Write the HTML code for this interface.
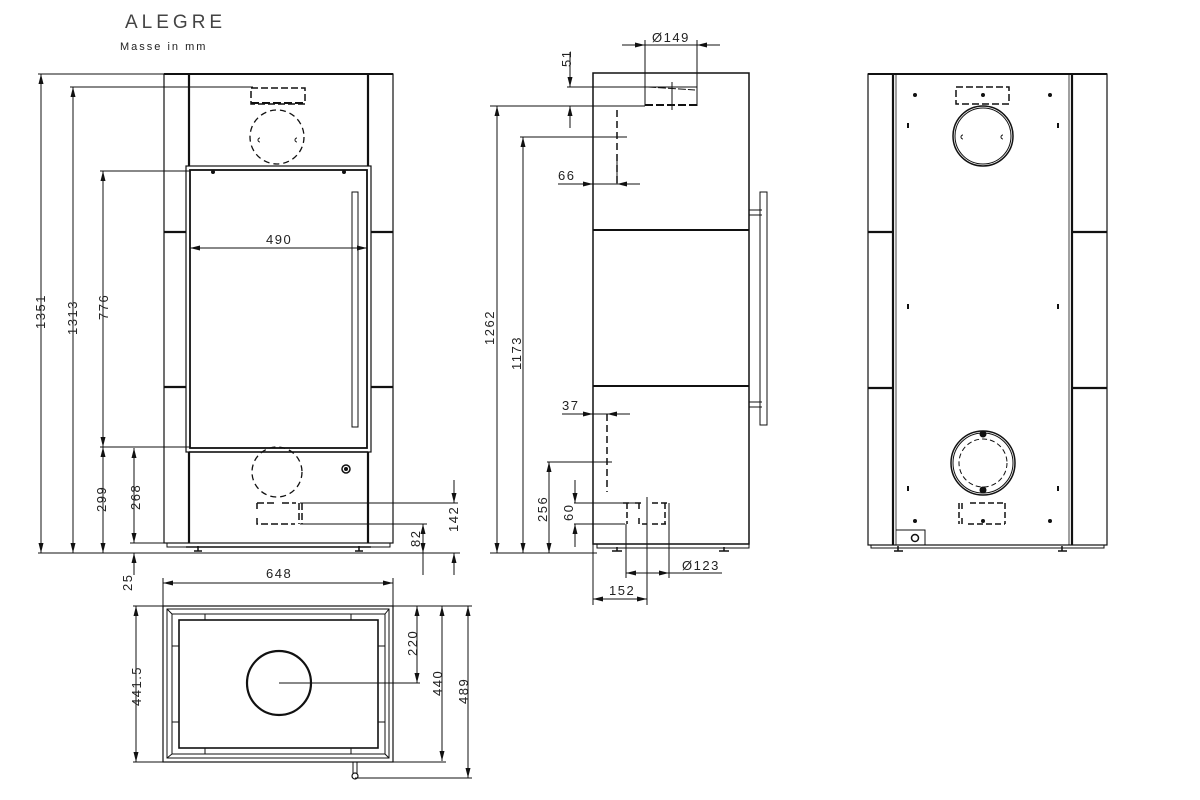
<!DOCTYPE html>
<html><head><meta charset="utf-8"><style>
html,body{margin:0;padding:0;background:#fff;}
svg{display:block;}
text{font-family:"Liberation Sans",sans-serif;fill:#222;font-size:13px;letter-spacing:1.5px;}
</style></head><body>
<svg width="1200" height="800" viewBox="0 0 1200 800" xmlns="http://www.w3.org/2000/svg">
<defs>
<marker id="a" viewBox="0 0 12 6" refX="12" refY="3" markerWidth="13" markerHeight="5" markerUnits="userSpaceOnUse" orient="auto-start-reverse" style="overflow:visible">
<path d="M0,0 L12,3 L0,6 Z" fill="#111"/></marker>
</defs>
<g stroke="#111" fill="none">

<!-- Title -->
<text x="125" y="28" style="font-size:19px;letter-spacing:4px;fill:#444" stroke="none">ALEGRE</text>
<text x="120" y="50" style="font-size:11px;letter-spacing:2px;fill:#222" stroke="none">Masse in mm</text>

<!-- ============ FRONT VIEW ============ -->
<rect x="164" y="74" width="229" height="469" stroke-width="1.2"/>
<line x1="164" y1="74" x2="393" y2="74" stroke-width="2"/>
<line x1="189" y1="74" x2="189" y2="543" stroke-width="2.2"/>
<line x1="368" y1="74" x2="368" y2="543" stroke-width="2.2"/>
<line x1="164" y1="232" x2="186" y2="232" stroke-width="2.2"/>
<line x1="371" y1="232" x2="393" y2="232" stroke-width="2.2"/>
<line x1="164" y1="387" x2="186" y2="387" stroke-width="2.2"/>
<line x1="371" y1="387" x2="393" y2="387" stroke-width="2.2"/>
<rect x="186" y="166" width="185" height="286" fill="#fff" stroke-width="1.2"/>
<rect x="190" y="170" width="177" height="278" stroke-width="1.8"/>
<rect x="352" y="192" width="6" height="235" stroke-width="1"/>
<line x1="189" y1="452" x2="368" y2="452" stroke-width="1.5"/>
<rect x="167" y="543" width="223" height="4" stroke-width="1"/>
<line x1="186" y1="547" x2="371" y2="547" stroke-width="1.5"/>
<path d="M194 551h8M198 546v5M355 551h8M359 546v5" stroke-width="1.5"/>
<circle cx="213" cy="172" r="1.5" fill="#111"/><circle cx="344" cy="172" r="1.5" fill="#111"/>
<rect x="251" y="88" width="54" height="16" stroke-dasharray="7 3" stroke-width="1.5"/>
<line x1="251" y1="103" x2="305" y2="103" stroke-width="2" stroke-dasharray="8 3"/>
<circle cx="277" cy="137" r="27" stroke-dasharray="6 4" stroke-width="1.3"/>
<path d="M260 138a2 2 0 0 0 0 4M297 138a2 2 0 0 0 0 4" stroke-width="1"/>
<circle cx="277" cy="472" r="25" stroke-dasharray="6 4" stroke-width="1.3"/>
<circle cx="346" cy="469" r="4" stroke-width="1.5"/><circle cx="346" cy="469" r="1.5" fill="#111"/>
<path d="M257 503h20M282 503h14M257 503v6M257 518v6h38M299 503v21M302 503v21" stroke-width="1.5" stroke-dasharray="7 3"/>

<!-- front dims -->
<line x1="38" y1="74" x2="164" y2="74" stroke-width="1"/>
<line x1="38" y1="553" x2="460" y2="553" stroke-width="1"/>
<line x1="41" y1="74" x2="41" y2="553" stroke-width="1" marker-start="url(#a)" marker-end="url(#a)"/>
<text transform="translate(45,329) rotate(-90)" stroke="none">1351</text>
<line x1="70" y1="87" x2="253" y2="87" stroke-width="1"/>
<line x1="73" y1="87" x2="73" y2="553" stroke-width="1" marker-start="url(#a)" marker-end="url(#a)"/>
<text transform="translate(77,335) rotate(-90)" stroke="none">1313</text>
<line x1="100" y1="171" x2="190" y2="171" stroke-width="1"/>
<line x1="100" y1="447" x2="190" y2="447" stroke-width="1"/>
<line x1="103" y1="171" x2="103" y2="447" stroke-width="1" marker-start="url(#a)" marker-end="url(#a)"/>
<text transform="translate(108,320) rotate(-90)" stroke="none">776</text>
<line x1="103" y1="447" x2="103" y2="553" stroke-width="1" marker-start="url(#a)" marker-end="url(#a)"/>
<text transform="translate(106,512) rotate(-90)" stroke="none">299</text>
<line x1="130" y1="543" x2="164" y2="543" stroke-width="1"/>
<line x1="134" y1="448" x2="134" y2="543" stroke-width="1" marker-start="url(#a)" marker-end="url(#a)"/>
<text transform="translate(140,510) rotate(-90)" stroke="none">268</text>
<line x1="134" y1="553" x2="134" y2="575" stroke-width="1" marker-start="url(#a)"/>
<text transform="translate(132,591) rotate(-90)" stroke="none">25</text>
<line x1="190" y1="248" x2="367" y2="248" stroke-width="1" marker-start="url(#a)" marker-end="url(#a)"/>
<text x="266" y="244" stroke="none">490</text>
<line x1="300" y1="503" x2="458" y2="503" stroke-width="1"/>
<line x1="300" y1="524" x2="427" y2="524" stroke-width="1"/>
<line x1="454" y1="480" x2="454" y2="503" stroke-width="1" marker-end="url(#a)"/>
<line x1="454" y1="553" x2="454" y2="575" stroke-width="1" marker-start="url(#a)"/>
<text transform="translate(458,532) rotate(-90)" stroke="none">142</text>
<line x1="423" y1="524" x2="423" y2="553" stroke-width="1" marker-start="url(#a)" marker-end="url(#a)"/>
<line x1="423" y1="553" x2="423" y2="575" stroke-width="1"/>
<text transform="translate(420,547) rotate(-90)" stroke="none">82</text>

<!-- ============ TOP VIEW ============ -->
<rect x="163" y="606" width="230" height="156" stroke-width="1.2"/>
<rect x="167" y="609" width="222" height="149" stroke-width="1"/>
<rect x="172" y="614" width="213" height="140" stroke-width="1"/>
<rect x="179" y="620" width="199" height="128" stroke-width="1.6"/>
<path d="M167 609l5 5M389 609l-4 5M167 758l5-4M389 758l-4-4" stroke-width="1"/>
<path d="M205 614v6M351 614v6M205 748v6M351 748v6M172 646h7M172 722h7M378 646h7M378 722h7" stroke-width="1"/>
<circle cx="279" cy="683" r="32" stroke-width="2.2"/>
<line x1="279" y1="683" x2="420" y2="683" stroke-width="1"/>
<line x1="163" y1="578" x2="163" y2="606" stroke-width="1"/>
<line x1="393" y1="578" x2="393" y2="606" stroke-width="1"/>
<line x1="163" y1="583" x2="393" y2="583" stroke-width="1" marker-start="url(#a)" marker-end="url(#a)"/>
<text x="266" y="578" stroke="none">648</text>
<line x1="133" y1="606" x2="163" y2="606" stroke-width="1"/>
<line x1="133" y1="762" x2="163" y2="762" stroke-width="1"/>
<line x1="136" y1="606" x2="136" y2="762" stroke-width="1" marker-start="url(#a)" marker-end="url(#a)"/>
<text transform="translate(141,706) rotate(-90)" stroke="none">441.5</text>
<line x1="393" y1="606" x2="472" y2="606" stroke-width="1"/>
<line x1="393" y1="762" x2="446" y2="762" stroke-width="1"/>
<line x1="417" y1="606" x2="417" y2="683" stroke-width="1" marker-start="url(#a)" marker-end="url(#a)"/>
<text transform="translate(417,656) rotate(-90)" stroke="none">220</text>
<line x1="442" y1="606" x2="442" y2="761" stroke-width="1" marker-start="url(#a)" marker-end="url(#a)"/>
<text transform="translate(442,696) rotate(-90)" stroke="none">440</text>
<line x1="468" y1="606" x2="468" y2="778" stroke-width="1" marker-start="url(#a)" marker-end="url(#a)"/>
<text transform="translate(468,704) rotate(-90)" stroke="none">489</text>
<line x1="355" y1="778" x2="472" y2="778" stroke-width="1"/>
<path d="M353 762v12M357 762v12" stroke-width="1"/>
<circle cx="355" cy="776" r="3" stroke-width="1.2"/>

<!-- ============ SIDE VIEW ============ -->
<rect x="593" y="73" width="156" height="471" stroke-width="1.5"/>
<line x1="593" y1="230" x2="749" y2="230" stroke-width="2"/>
<line x1="593" y1="386" x2="749" y2="386" stroke-width="2"/>
<rect x="597" y="544" width="152" height="4" stroke-width="1"/>
<path d="M612 551h10M617 547v4M719 551h10M724 547v4" stroke-width="1.5"/>
<rect x="760" y="192" width="7" height="233" stroke-width="1"/>
<path d="M749 210h13M749 215h13M749 402h13M749 407h13" stroke-width="1"/>
<path d="M645 87v19M697 87v19" stroke-width="1"/>
<line x1="645" y1="105" x2="697" y2="105" stroke-width="2" stroke-dasharray="8 3"/>
<line x1="648" y1="87" x2="695" y2="90" stroke-width="1" stroke-dasharray="8 2"/>
<line x1="672" y1="82" x2="672" y2="110" stroke-width="1"/>
<line x1="645" y1="40" x2="645" y2="87" stroke-width="1"/>
<line x1="697" y1="40" x2="697" y2="87" stroke-width="1"/>
<line x1="622" y1="45" x2="645" y2="45" stroke-width="1" marker-end="url(#a)"/>
<line x1="697" y1="45" x2="720" y2="45" stroke-width="1" marker-start="url(#a)"/>
<line x1="645" y1="45" x2="697" y2="45" stroke-width="1"/>
<text x="652" y="42" stroke="none">Ø149</text>
<line x1="567" y1="87" x2="697" y2="87" stroke-width="1"/>
<line x1="490" y1="106" x2="645" y2="106" stroke-width="1"/>
<line x1="570" y1="52" x2="570" y2="87" stroke-width="1" marker-end="url(#a)"/>
<line x1="570" y1="106" x2="570" y2="128" stroke-width="1" marker-start="url(#a)"/>
<text transform="translate(571,67) rotate(-90)" stroke="none">51</text>
<line x1="497" y1="106" x2="497" y2="553" stroke-width="1" marker-start="url(#a)" marker-end="url(#a)"/>
<text transform="translate(494,345) rotate(-90)" stroke="none">1262</text>
<line x1="520" y1="137" x2="627" y2="137" stroke-width="1"/>
<line x1="523" y1="137" x2="523" y2="553" stroke-width="1" marker-start="url(#a)" marker-end="url(#a)"/>
<text transform="translate(521,370) rotate(-90)" stroke="none">1173</text>
<line x1="490" y1="553" x2="597" y2="553" stroke-width="1"/>
<line x1="617" y1="110" x2="617" y2="184" stroke-width="1.5" stroke-dasharray="7 4"/>
<line x1="617" y1="160" x2="617" y2="184" stroke-width="1"/>
<line x1="558" y1="184" x2="593" y2="184" stroke-width="1" marker-end="url(#a)"/>
<line x1="617" y1="184" x2="640" y2="184" stroke-width="1" marker-start="url(#a)"/>
<line x1="593" y1="184" x2="617" y2="184" stroke-width="1"/>
<text x="558" y="180" stroke="none">66</text>
<line x1="562" y1="414" x2="593" y2="414" stroke-width="1" marker-end="url(#a)"/>
<line x1="607" y1="414" x2="630" y2="414" stroke-width="1" marker-start="url(#a)"/>
<line x1="593" y1="414" x2="607" y2="414" stroke-width="1"/>
<text x="562" y="410" stroke="none">37</text>
<line x1="607" y1="414" x2="607" y2="492" stroke-width="1.5" stroke-dasharray="7 4"/>
<line x1="547" y1="462" x2="612" y2="462" stroke-width="1"/>
<line x1="549" y1="462" x2="549" y2="553" stroke-width="1" marker-start="url(#a)" marker-end="url(#a)"/>
<text transform="translate(547,522) rotate(-90)" stroke="none">256</text>
<line x1="574" y1="503" x2="640" y2="503" stroke-width="1"/>
<line x1="574" y1="524" x2="625" y2="524" stroke-width="1"/>
<line x1="575" y1="480" x2="575" y2="503" stroke-width="1" marker-end="url(#a)"/>
<line x1="575" y1="524" x2="575" y2="547" stroke-width="1" marker-start="url(#a)"/>
<text transform="translate(573,521) rotate(-90)" stroke="none">60</text>
<path d="M623 503h8M627 503v21M635 503h6M639 503v6M639 518v6h8M652 503h14M661 503h8M665 503v21M652 524h14" stroke-width="1.5" stroke-dasharray="6 3"/>
<line x1="647" y1="497" x2="647" y2="605" stroke-width="1"/>
<line x1="626" y1="524" x2="626" y2="578" stroke-width="1"/>
<line x1="669" y1="503" x2="669" y2="578" stroke-width="1"/>
<line x1="626" y1="573" x2="669" y2="573" stroke-width="1" marker-start="url(#a)" marker-end="url(#a)"/>
<line x1="669" y1="573" x2="722" y2="573" stroke-width="1"/>
<text x="682" y="570" stroke="none">Ø123</text>
<line x1="593" y1="544" x2="593" y2="605" stroke-width="1"/>
<line x1="593" y1="599" x2="647" y2="599" stroke-width="1" marker-start="url(#a)" marker-end="url(#a)"/>
<text x="609" y="595" stroke="none">152</text>

<!-- ============ BACK VIEW ============ -->
<rect x="868" y="74" width="239" height="471" stroke-width="1.2"/>
<line x1="868" y1="74" x2="1107" y2="74" stroke-width="2"/>
<line x1="893" y1="74" x2="893" y2="545" stroke-width="2.2"/>
<line x1="1072" y1="74" x2="1072" y2="545" stroke-width="2.2"/>
<line x1="896" y1="74" x2="896" y2="545" stroke-width="0.8"/>
<line x1="1069" y1="74" x2="1069" y2="545" stroke-width="0.8"/>
<line x1="868" y1="232" x2="893" y2="232" stroke-width="2.2"/>
<line x1="1072" y1="232" x2="1107" y2="232" stroke-width="2.2"/>
<line x1="868" y1="388" x2="893" y2="388" stroke-width="2.2"/>
<line x1="1072" y1="388" x2="1107" y2="388" stroke-width="2.2"/>
<rect x="871" y="545" width="233" height="3" stroke-width="1"/>
<path d="M894 551h9M898 546v5M1058 551h9M1062 546v5" stroke-width="1.5"/>
<rect x="956" y="87" width="53" height="17" stroke-dasharray="7 3" stroke-width="1.5"/>
<circle cx="983" cy="136" r="30" stroke-width="1.5"/>
<circle cx="983" cy="136" r="28" stroke-width="1"/>
<path d="M963 135a2 2 0 0 0 0 4M1003 135a2 2 0 0 0 0 4" stroke-width="1"/>
<circle cx="983" cy="463" r="32" stroke-width="1.5"/>
<circle cx="983" cy="463" r="30" stroke-width="1"/>
<circle cx="983" cy="463" r="24" stroke-width="1" stroke-dasharray="5 3"/>
<circle cx="983" cy="434" r="3" fill="#111"/>
<circle cx="983" cy="490" r="3" fill="#111"/>
<path d="M959 503v21M962 503v6M962 518v6M970 503h35M1005 503v21M968 524h37" stroke-width="1.5" stroke-dasharray="6 3"/>
<g fill="#111" stroke="none">
<circle cx="915" cy="95" r="2"/><circle cx="983" cy="95" r="2"/><circle cx="1050" cy="95" r="2"/>
<circle cx="915" cy="521" r="2"/><circle cx="983" cy="521" r="2"/><circle cx="1050" cy="521" r="2"/>
<rect x="907" y="123" width="2" height="5"/><rect x="1057" y="123" width="2" height="5"/>
<rect x="907" y="304" width="2" height="5"/><rect x="1057" y="304" width="2" height="5"/>
<rect x="907" y="486" width="2" height="5"/><rect x="1057" y="486" width="2" height="5"/>
</g>
<path d="M896 530h29v15" stroke-width="1"/>
<circle cx="915" cy="538" r="3.5" stroke-width="1.5"/>
</g>
</svg>
</body></html>
